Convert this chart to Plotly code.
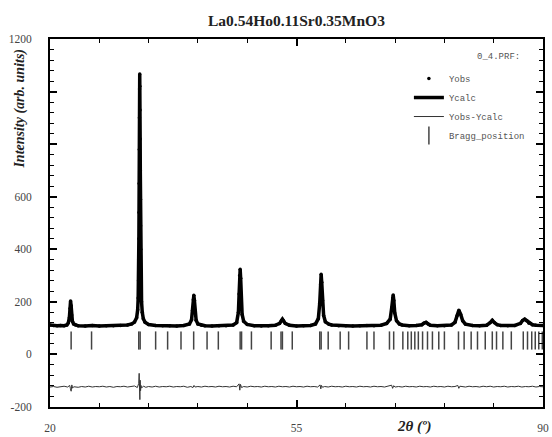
import plotly.graph_objects as go

# ---------------- data ----------------
title_text = "La0.54Ho0.11Sr0.35MnO3"

# observed / calculated pattern: 2-theta (deg) and intensity (arb. units)
tth_obs = [20.0, 20.5, 21.0, 21.5, 22.0, 22.4, 22.6, 22.75, 22.85, 22.92, 23.0, 23.08, 23.18, 23.35, 23.6,
           24.0, 25.0, 26.0, 27.0, 28.0, 29.0, 30.0, 31.0, 31.6, 32.0, 32.3, 32.45, 32.52, 32.57, 32.6,
           32.62, 32.64, 32.66, 32.68, 32.70, 32.72, 32.74, 32.76, 32.78, 32.80, 32.82, 32.84, 32.86,
           32.88, 32.91, 32.95, 33.0, 33.1, 33.25, 33.5, 34.0, 35.0, 36.0, 37.0, 38.0, 39.0, 39.8, 40.1,
           40.25, 40.35, 40.42, 40.5, 40.6, 40.75, 41.0, 41.5, 42.0, 43.0, 44.0, 45.0, 46.0, 46.5, 46.75,
           46.85, 46.93, 47.0, 47.07, 47.15, 47.28, 47.5, 48.0, 49.0, 50.0, 51.0, 52.0, 52.6, 52.85, 53.0,
           53.15, 53.4, 54.0, 55.0, 56.0, 57.0, 57.7, 58.1, 58.3, 58.42, 58.5, 58.58, 58.7, 58.85, 59.1,
           59.6, 60.0, 61.0, 62.0, 63.0, 64.0, 65.0, 66.0, 67.0, 67.8, 68.3, 68.52, 68.65, 68.73, 68.82,
           68.95, 69.2, 69.6, 70.0, 71.0, 72.0, 72.8, 73.1, 73.4, 73.7, 74.0, 75.0, 76.0, 77.0, 77.5,
           77.8, 78.05, 78.3, 78.6, 79.0, 80.0, 81.0, 82.0, 82.5, 82.8, 83.1, 83.5, 84.0, 85.0, 86.0,
           86.8, 87.1, 87.4, 87.7, 88.0, 88.5, 89.0, 90.0]
y_obs = [112, 110, 109, 110, 109, 112, 120, 140, 175, 203, 185, 150, 126, 116, 112,
         109, 108, 110, 108, 109, 109, 110, 112, 116, 123, 140, 170, 215, 280, 360,
         440, 540, 650, 780, 900, 1010, 1067, 1020, 930, 820, 700, 590, 490,
         400, 320, 250, 200, 160, 136, 122, 114, 110, 109, 109, 108, 110, 116, 132,
         168, 208, 225, 206, 165, 130, 116, 111, 109, 108, 109, 109, 112, 121, 160,
         230, 300, 324, 290, 215, 152, 126, 114, 109, 108, 109, 111, 118, 128, 134,
         128, 118, 111, 108, 109, 110, 116, 136, 195, 265, 305, 275, 205, 148, 124,
         115, 112, 109, 109, 108, 109, 110, 109, 111, 118, 134, 178, 215, 226, 205,
         158, 128, 116, 112, 109, 110, 113, 119, 122, 116, 111, 109, 109, 112, 122,
         147, 168, 153, 128, 115, 110, 109, 111, 121, 130, 121, 113, 110, 109, 110,
         118, 129, 134, 128, 119, 113, 111, 110]

# difference curve Yobs-Ycalc (offset)
tth_diff = [20.0, 20.5, 21.0, 21.5, 22.0, 22.5, 22.8, 22.9, 23.0, 23.1, 23.2, 23.4, 24.0, 24.5, 25.0,
            25.5, 26.0, 26.5, 27.0, 27.5, 28.0, 28.5, 29.0, 29.5, 30.0, 30.5, 31.0, 31.5, 32.0, 32.4,
            32.6, 32.66, 32.72, 32.76, 32.8, 32.86, 32.92, 33.0, 33.3, 33.6, 34.0, 34.5, 35.0, 35.5,
            36.0, 36.5, 37.0, 37.5, 38.0, 38.5, 39.0, 39.5, 40.0, 40.3, 40.45, 40.6, 41.0, 41.5, 42.0,
            42.5, 43.0, 43.5, 44.0, 44.5, 45.0, 45.5, 46.0, 46.5, 46.85, 46.95, 47.05, 47.2, 47.5, 48.0,
            48.5, 49.0, 49.5, 50.0, 50.5, 51.0, 51.5, 52.0, 52.5, 53.0, 53.5, 54.0, 54.5, 55.0, 55.5,
            56.0, 56.5, 57.0, 57.5, 58.0, 58.35, 58.45, 58.55, 58.7, 59.0, 59.5, 60.0, 60.5, 61.0, 61.5,
            62.0, 62.5, 63.0, 63.5, 64.0, 64.5, 65.0, 65.5, 66.0, 66.5, 67.0, 67.5, 68.0, 68.5, 68.65,
            68.8, 69.0, 69.5, 70.0, 70.5, 71.0, 71.5, 72.0, 72.5, 73.0, 73.5, 74.0, 74.5, 75.0, 75.5,
            76.0, 76.5, 77.0, 77.5, 77.9, 78.05, 78.2, 78.5, 79.0, 79.5, 80.0, 80.5, 81.0, 81.5, 82.0,
            82.5, 83.0, 83.5, 84.0, 84.5, 85.0, 85.5, 86.0, 86.5, 87.0, 87.5, 88.0, 88.5, 89.0, 89.5, 90.0]
y_diff = [-124, -122, -125, -123, -121, -124, -118, -130, -140, -116, -128, -123, -125, -122, -124,
          -121, -124, -122, -123, -121, -124, -122, -125, -122, -123, -121, -124, -122, -120, -126,
          -110, -72, -150, -172, -98, -138, -118, -127, -121, -125, -122, -124, -121, -124,
          -122, -123, -121, -124, -122, -123, -121, -125, -122, -126, -118, -124, -122, -124, -121,
          -123, -122, -124, -121, -123, -122, -124, -121, -123, -112, -136, -114, -126, -122, -124,
          -121, -123, -122, -124, -121, -123, -122, -124, -121, -123, -122, -124, -121, -123, -122,
          -124, -121, -123, -122, -124, -116, -131, -118, -125, -122, -124, -121, -123, -122, -124,
          -121, -123, -122, -124, -121, -123, -122, -124, -121, -123, -122, -124, -121, -117, -129,
          -119, -124, -122, -124, -121, -123, -122, -124, -121, -123, -122, -124, -121, -123, -122,
          -124, -121, -123, -122, -118, -129, -121, -123, -124, -121, -123, -122, -124, -121, -123,
          -121, -124, -122, -123, -121, -124, -122, -123, -121, -124, -122, -123, -121, -124, -122, -123]

# Bragg reflection positions (deg)
bragg_pos = [23.0, 25.9, 32.6, 32.8, 35.0, 36.7, 38.6, 40.4, 42.3, 43.9, 47.0, 47.2, 48.6, 51.4,
             52.8, 53.0, 54.4, 58.3, 58.5, 59.5, 61.2, 62.4, 65.0, 66.0, 68.2, 68.8, 70.1, 70.8,
             71.3, 71.8, 72.3, 72.9, 73.6, 74.3, 75.2, 76.0, 78.0, 78.8, 79.8, 80.7, 81.8, 82.8,
             83.4, 84.3, 85.5, 87.2, 87.8, 88.4, 88.9, 89.4, 89.9]
bragg_level = 53

x_range = [20, 90]
y_range = [-200, 1200]
x_major = [20, 55, 90]
x_minor = [27, 34, 41, 48, 55, 62, 69, 76, 83]
y_major = [-200, 0, 200, 400, 600, 800, 1000, 1200]
y_major_text = ["-200", "0", "200", "400", "600", "", "", "1200"]

# ---------------- figure ----------------
fig = go.Figure()

fig.add_trace(go.Scatter(
    x=bragg_pos, y=[bragg_level] * len(bragg_pos), mode="markers", name="Bragg_position",
    marker=dict(symbol="line-ns", size=13, line=dict(width=1.5, color="#444")),
))
fig.add_trace(go.Scatter(
    x=tth_diff, y=y_diff, mode="lines", name="Yobs-Ycalc",
    line=dict(color="#333", width=1),
))
fig.add_trace(go.Scatter(
    x=tth_obs, y=y_obs, mode="lines", name="Ycalc",
    line=dict(color="black", width=3.5),
))
fig.add_trace(go.Scatter(
    x=tth_obs, y=y_obs, mode="markers", name="Yobs",
    marker=dict(color="black", size=3.5),
))

serif = "Liberation Serif, Times New Roman, serif"
mono = "Liberation Mono, Courier New, monospace"

fig.update_layout(
    width=552, height=437,
    margin=dict(l=50, r=3, t=39, b=28),
    paper_bgcolor="white", plot_bgcolor="white",
    showlegend=True,
    legend=dict(
        x=0.728, y=0.932, xanchor="left", yanchor="top",
        traceorder="reversed",
        font=dict(family=mono, size=9, color="#555"),
        bgcolor="rgba(0,0,0,0)", itemwidth=30, tracegroupgap=0,
    ),
    title=dict(text="<b>" + title_text + "</b>", x=0.537, xref="container", xanchor="center",
               y=0.953, yref="container", yanchor="middle",
               font=dict(family=serif, size=15.5, color="#222")),
)

fig.update_xaxes(
    range=x_range, showgrid=False, zeroline=False,
    showline=True, linecolor="black", linewidth=2, mirror="allticks",
    tickmode="array", tickvals=x_major, ticks="inside", ticklen=7, tickwidth=1.5, tickcolor="black",
    ticklabelstandoff=9, ticklabeloverflow="allow",
    tickfont=dict(family=serif, size=11.5, color="#444"),
    minor=dict(tickmode="array", tickvals=x_minor, ticks="inside", ticklen=4, tickwidth=1, tickcolor="black"),
)
fig.update_yaxes(
    range=y_range, showgrid=False, zeroline=False,
    showline=True, linecolor="black", linewidth=2, mirror="allticks",
    tickmode="array", tickvals=y_major, ticktext=y_major_text,
    ticks="inside", ticklen=7, tickwidth=1.5, tickcolor="black",
    ticklabelstandoff=14, ticklabeloverflow="allow",
    tickfont=dict(family=serif, size=11.5, color="#444"),
    minor=dict(dtick=40, tick0=0, ticks="inside", ticklen=4, tickwidth=1, tickcolor="black"),
)

# axis titles
fig.add_annotation(text="<b><i>Intensity (arb. units)</i></b>", textangle=-90,
                   xref="paper", yref="paper", x=-0.06, y=0.812, xanchor="center", yanchor="middle",
                   showarrow=False, font=dict(family=serif, size=14, color="#222"))
fig.add_annotation(text="<b><i>2θ (º)</i></b>",
                   xref="paper", yref="paper", x=0.74, y=-0.053, xanchor="center", yanchor="middle",
                   showarrow=False, font=dict(family=serif, size=15, color="#222"))
fig.add_annotation(text="0_4.PRF:",
                   xref="paper", yref="paper", x=0.91, y=0.95, xanchor="center", yanchor="middle",
                   showarrow=False, font=dict(family=mono, size=9, color="#555"))

fig.write_html("out.html")
